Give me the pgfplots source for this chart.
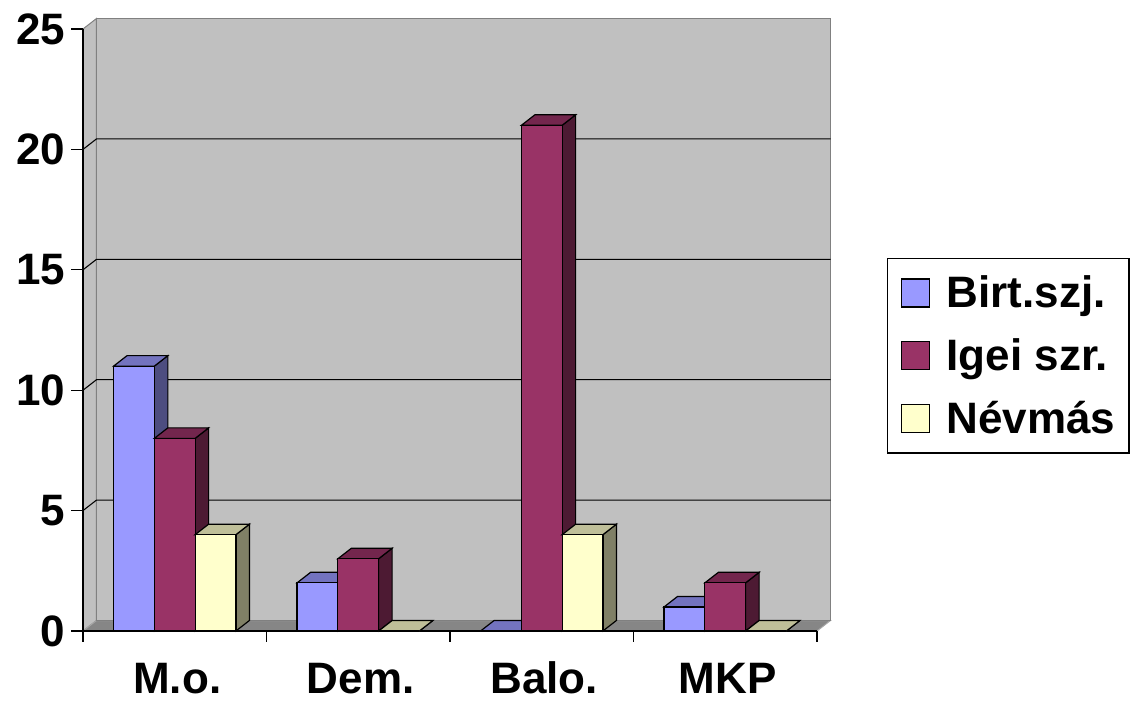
\documentclass[border=0pt]{standalone}
\usepackage{pgfplots}
\pgfplotsset{compat=1.18}
\usepackage{pgfplotstable}
\usepackage{fontspec}
\setmainfont{Liberation Sans}

\definecolor{birtF}{HTML}{9999FF}
\definecolor{birtT}{HTML}{7373BF}
\definecolor{birtS}{HTML}{4D4D80}
\definecolor{igeiF}{HTML}{993366}
\definecolor{igeiT}{HTML}{73264D}
\definecolor{igeiS}{HTML}{4D1A33}
\definecolor{nevF}{HTML}{FFFFCC}
\definecolor{nevT}{HTML}{BFBF99}
\definecolor{nevS}{HTML}{808066}
\definecolor{wall}{HTML}{C0C0C0}
\definecolor{wallEdge}{HTML}{808080}
\definecolor{floorGray}{HTML}{868686}

% counts per category, x = category centre
\pgfplotstableread{
x    birt igei nev
0.5  11   8    4
1.5  2    3    0
2.5  0    21   4
3.5  1    2    0
}\counts

% 3-D column drawn around its data point (top edge of the front face):
% #1 mark name, #2 offset from the category centre,
% #3 front, #4 top, #5 side colour
\newcommand\declarebarmark[5]{%
  \pgfdeclareplotmark{#1}{%
    \pgfmathsetlengthmacro\barh{\barval*18.06pt}%
    \pgfsetlinewidth{0.9pt}\pgfsetstrokecolor{black}\pgfsetmiterjoin
    % right side
    \pgfsetfillcolor{#5}%
    \pgfpathmoveto{\pgfpoint{#2+15.29pt}{0pt}}%
    \pgfpathlineto{\pgfpoint{#2+25.415pt}{7.875pt}}%
    \pgfpathlineto{\pgfpoint{#2+25.415pt}{7.875pt-\barh}}%
    \pgfpathlineto{\pgfpoint{#2+15.29pt}{-\barh}}%
    \pgfpathclose
    \pgfusepath{fill,stroke}%
    % top
    \pgfsetfillcolor{#4}%
    \pgfpathmoveto{\pgfpoint{#2-15.29pt}{0pt}}%
    \pgfpathlineto{\pgfpoint{#2+15.29pt}{0pt}}%
    \pgfpathlineto{\pgfpoint{#2+25.415pt}{7.875pt}}%
    \pgfpathlineto{\pgfpoint{#2-5.165pt}{7.875pt}}%
    \pgfpathclose
    \pgfusepath{fill,stroke}%
    % front
    \pgfsetfillcolor{#3}%
    \pgfpathrectangle{\pgfpoint{#2-15.29pt}{-\barh}}{\pgfpoint{30.58pt}{\barh}}%
    \pgfusepath{fill,stroke}%
  }}
\declarebarmark{birtbar}{-30.58pt}{birtF}{birtT}{birtS}
\declarebarmark{igeibar}{0pt}{igeiF}{igeiT}{igeiS}
\declarebarmark{nevbar}{30.58pt}{nevF}{nevT}{nevS}

\newcommand\chartfont{\fontsize{33}{38}\selectfont\bfseries}
% legend key: framed square plus the gap before the text
\newcommand\legendkey[1]{%
  \draw[black, line width=0.9pt, fill=#1] (0pt,-10.5pt) rectangle (21pt,10.5pt);
  \path[draw=none] (21pt,0pt) -- (33.75pt,0pt);}

\begin{document}
\begin{tikzpicture}
\path[use as bounding box] (-62.25pt,-51.75pt) rectangle (789pt,473.25pt);
\begin{axis}[
  at={(0pt,0pt)}, anchor=south west,
  scale only axis, width=550.5pt, height=451.5pt,
  xmin=0, xmax=4, ymin=0, ymax=25,
  clip=false, axis on top,
  axis x line*=bottom, axis y line*=left,
  axis line style={-, black, line width=0.9pt},
  tick align=outside,
  ytick={0,5,10,15,20,25}, yticklabels={0,5,10,15,20,25},
  xtick={0.5,1.5,2.5,3.5}, xticklabels={M.o.,Dem.,Balo.,MKP},
  minor xtick={0,1,2,3,4},
  major x tick style={draw=none},
  major tick length=8.7pt, minor tick length=8pt,
  tick style={black, line width=0.9pt},
  ticklabel style={font=\chartfont, inner sep=0pt},
  yticklabel style={anchor=east, xshift=-4.6pt},
  xticklabel style={anchor=base, xshift=1.9pt, yshift=-37.8pt},
  legend style={at={(1.0954,0.6196)}, anchor=north west,
    draw=black, line width=1.1pt, font=\chartfont,
    inner xsep=10pt, inner ysep=13pt, row sep=21.5pt,
    nodes={inner sep=0pt}},
  legend cell align=left,
]
% side wall, floor and back wall
\filldraw[fill=wall, draw=wallEdge, line width=0.75pt]
  (axis cs:0,0) -- (axis cs:0.07357,0.436) -- (axis cs:0.07357,25.436) -- (axis cs:0,25) -- cycle;
\filldraw[fill=floorGray, draw=wallEdge!70, line width=0.75pt]
  (axis cs:0,0) -- (axis cs:4,0) -- (axis cs:4.07357,0.436) -- (axis cs:0.07357,0.436) -- cycle;
\filldraw[fill=wall, draw=wallEdge, line width=0.75pt]
  (axis cs:0.07357,0.436) rectangle (axis cs:4.07357,25.436);
% grid lines on the walls
\pgfplotsinvokeforeach{5,10,15,20}{%
  \draw[black, line width=0.8pt]
    (axis cs:0,#1) -- (axis cs:0.07357,#1.436) -- (axis cs:4.07357,#1.436);}

\addplot[only marks, mark=birtbar,
  visualization depends on={\thisrow{birt}\as\barval},
  legend image code/.code={\legendkey{birtF}}]
  table[x=x, y=birt] {\counts};
\addlegendentry{Birt.szj.}
\addplot[only marks, mark=igeibar,
  visualization depends on={\thisrow{igei}\as\barval},
  legend image code/.code={\legendkey{igeiF}}]
  table[x=x, y=igei] {\counts};
\addlegendentry{Igei szr.}
\addplot[only marks, mark=nevbar,
  visualization depends on={\thisrow{nev}\as\barval},
  legend image code/.code={\legendkey{nevF}}]
  table[x=x, y=nev] {\counts};
\addlegendentry{Névmás}
\end{axis}
\end{tikzpicture}
\end{document}
